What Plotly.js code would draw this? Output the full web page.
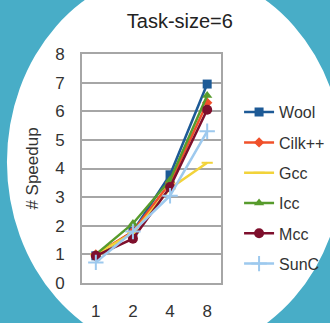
<!DOCTYPE html>
<html><head><meta charset="utf-8">
<script src="https://cdn.plot.ly/plotly-3.0.1.min.js"></script>
<style>html,body{margin:0;padding:0;background:#48ADC7;}</style>
</head><body><div id="chart" style="width:330px;height:323px;"></div>
<script>
var categories = ['1', '2', '4', '8'];
var seriesNames = ['Wool', 'Cilk++', 'Gcc', 'Icc', 'Mcc', 'SunC'];
var wool = [0.95, 1.8, 3.78, 6.95];
var cilk = [1.0, 1.8, 3.5, 6.3];
var gcc = [1.0, 1.75, 3.3, 4.2];
var icc = [1.0, 2.08, 3.6, 6.55];
var mcc = [0.95, 1.55, 3.35, 6.05];
var sunc = [0.72, 1.8, 3.05, 5.3];
var yTicks = [0, 1, 2, 3, 4, 5, 6, 7, 8];

var values = [wool, cilk, gcc, icc, mcc, sunc];
var colors = ['#1D5A96', '#F0502A', '#F2D33A', '#579B2C', '#7E0F2C', '#9DC9EE'];
var symbols = ['square', 'diamond', 'line-ew', 'triangle-up', 'circle', 'cross-thin'];
var sizes = [9, 8, 8, 9, 10, 11];

var traces = values.map(function (v, i) {
  return {
    type: 'scatter', mode: 'lines+markers',
    x: categories, y: v, name: seriesNames[i], legendgroup: 'g' + i,
    line: {color: colors[i], width: 2.5},
    marker: {symbol: symbols[i], size: sizes[i], color: colors[i],
             line: {color: colors[i], width: (symbols[i] === 'line-ew' || symbols[i] === 'cross-thin') ? 2 : 0}}
  };
});

var layout = {
  width: 330, height: 323,
  margin: {l: 82, r: 109, t: 54, b: 40, autoexpand: false},
  paper_bgcolor: '#48ADC7',
  plot_bgcolor: 'rgba(0,0,0,0)',
  font: {family: 'Liberation Sans, Arial, sans-serif', color: '#333'},
  title: {text: 'Task-size=6', font: {size: 20, color: '#222'}, x: 0.545, xanchor: 'center', y: 0.935, yanchor: 'middle'},
  showlegend: true,
  legend: {x: 1.13, xanchor: 'left', y: 0.82, yanchor: 'top', font: {size: 16, color: '#333'},
           tracegroupgap: 6.5, bgcolor: 'rgba(0,0,0,0)', itemwidth: 30},
  xaxis: {type: 'category', categoryarray: categories, showgrid: false, zeroline: false,
          showline: true, mirror: true, linecolor: '#A6A6A6', linewidth: 2,
          ticks: '', ticklabelstandoff: 12, tickfont: {size: 17, color: '#333'}, fixedrange: true},
  yaxis: {range: [0, 8], tickvals: yTicks, showgrid: true, gridcolor: '#A6A6A6', gridwidth: 2,
          zeroline: false, showline: true, mirror: true, linecolor: '#A6A6A6', linewidth: 2,
          ticks: '', ticklabelstandoff: 12, tickfont: {size: 17, color: '#333'},
          title: {text: '# Speedup', font: {size: 17, color: '#333'}, standoff: 12}, fixedrange: true},
  shapes: [{type: 'circle', xref: 'paper', yref: 'paper', layer: 'below',
            x0: -0.54, x1: 1.88, y0: -0.31, y1: 1.367,
            fillcolor: '#FFFFFF', line: {width: 0}}]
};

Plotly.newPlot('chart', traces, layout, {staticPlot: true, displayModeBar: false});
</script></body></html>
